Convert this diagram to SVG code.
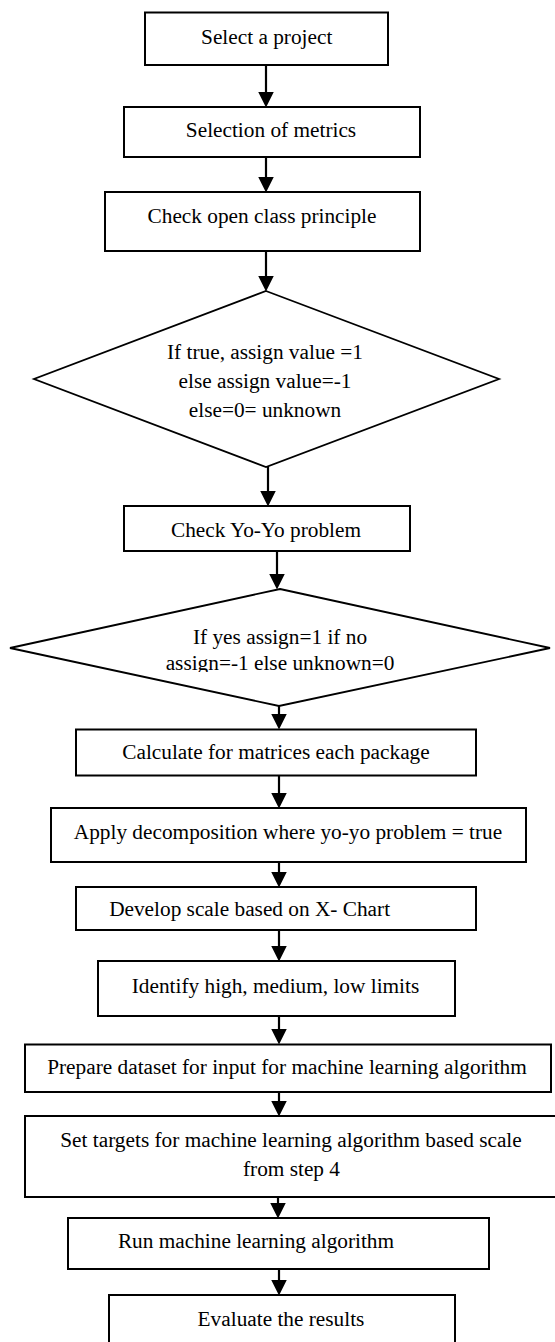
<svg xmlns="http://www.w3.org/2000/svg" width="555" height="1342" viewBox="0 0 555 1342">
<style>
.box{fill:#fff;stroke:#000;stroke-width:2}
.dia{fill:#fff;stroke:#000;stroke-width:1.8}
.t{font-family:"Liberation Serif","Times New Roman",serif;font-size:21.3px;fill:#000;text-anchor:middle}
.c{stroke:#000;stroke-width:2.2;fill:none;marker-end:url(#ah)}
</style>
<defs>
<marker id="ah" markerUnits="userSpaceOnUse" markerWidth="16" markerHeight="16" viewBox="0 0 15 15" refX="7" refY="7.5" orient="auto">
<path d="M0,0 L15,7.5 L0,15 z" fill="#000"/>
</marker>
<clipPath id="clipd2"><rect x="0" y="580" width="555" height="92"/></clipPath>
</defs>
<rect x="0" y="0" width="555" height="1342" fill="#fff"/>
<g id="connectors">
<line class="c" x1="266" y1="65" x2="266" y2="99"/>
<line class="c" x1="266" y1="157" x2="266" y2="184"/>
<line class="c" x1="266" y1="251" x2="266" y2="283"/>
<line class="c" x1="268" y1="467" x2="268" y2="498"/>
<line class="c" x1="277" y1="551" x2="277" y2="581"/>
<line class="c" x1="279" y1="706" x2="279" y2="721"/>
<line class="c" x1="279" y1="776" x2="279" y2="800"/>
<line class="c" x1="279" y1="862" x2="279" y2="879"/>
<line class="c" x1="279" y1="930" x2="279" y2="953"/>
<line class="c" x1="279" y1="1016" x2="279" y2="1036"/>
<line class="c" x1="279" y1="1092" x2="279" y2="1108"/>
<line class="c" x1="278" y1="1197" x2="278" y2="1210"/>
<line class="c" x1="279" y1="1269" x2="279" y2="1287"/>
</g>
<g id="n1">
<rect class="box" x="145" y="12.5" width="243" height="52.5"/>
<text class="t" x="266.7" y="44">Select a project</text>
</g>
<g id="n2">
<rect class="box" x="124" y="107" width="296" height="50"/>
<text class="t" x="271" y="137">Selection of metrics</text>
</g>
<g id="n3">
<rect class="box" x="105" y="192" width="315" height="59"/>
<text class="t" x="262" y="223">Check open class principle</text>
</g>
<g id="n4">
<polygon class="dia" points="266,291 499,379 266,467 34,379"/>
<text class="t" x="265" y="359">If true, assign value =1</text>
<text class="t" x="265" y="388">else assign value=-1</text>
<text class="t" x="265" y="417">else=0= unknown</text>
</g>
<g id="n5">
<rect class="box" x="124" y="506" width="286" height="45"/>
<text class="t" x="266" y="537">Check Yo-Yo problem</text>
</g>
<g id="n6">
<polygon class="dia" points="280,589 550,648 279,706 10,648"/>
<g clip-path="url(#clipd2)">
<text class="t" x="280" y="644">If yes assign=1 if no</text>
<text class="t" x="280" y="670">assign=-1 else unknown=0</text>
</g>
</g>
<g id="n7">
<rect class="box" x="76" y="729.5" width="400" height="46"/>
<text class="t" x="276" y="759">Calculate for matrices each package</text>
</g>
<g id="n8">
<rect class="box" x="51" y="808" width="475" height="54"/>
<text class="t" x="288" y="839">Apply decomposition where yo-yo problem = true</text>
</g>
<g id="n9">
<rect class="box" x="76" y="887" width="400" height="43"/>
<text class="t" x="249.6" y="916">Develop scale based on X- Chart</text>
</g>
<g id="n10">
<rect class="box" x="98" y="961" width="357" height="55"/>
<text class="t" x="275.5" y="993">Identify high, medium, low limits</text>
</g>
<g id="n11">
<rect class="box" x="25" y="1044.5" width="526" height="47.5"/>
<text class="t" x="287" y="1074">Prepare dataset for input for machine learning algorithm</text>
</g>
<g id="n12">
<rect class="box" x="25" y="1116" width="540" height="81"/>
<text class="t" x="291" y="1147">Set targets for machine learning algorithm based scale</text>
<text class="t" x="291.5" y="1176">from step 4</text>
</g>
<g id="n13">
<rect class="box" x="68" y="1218" width="421" height="51"/>
<text class="t" x="256" y="1248">Run machine learning algorithm</text>
</g>
<g id="n14">
<rect class="box" x="109" y="1295" width="346" height="60"/>
<text class="t" x="281" y="1326">Evaluate the results</text>
</g>
</svg>
